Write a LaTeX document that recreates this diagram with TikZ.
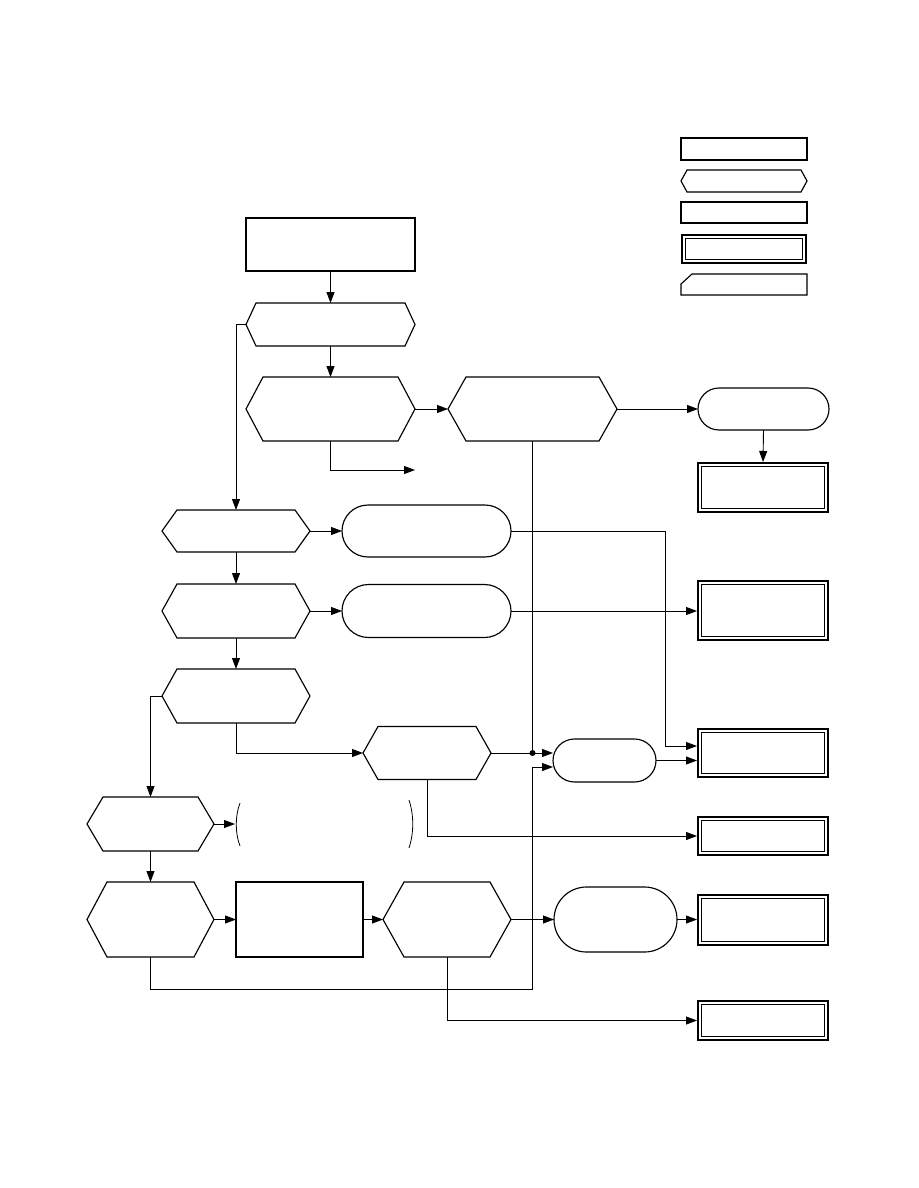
\documentclass[tikz,border=0pt]{standalone}
\usetikzlibrary{arrows.meta,calc}
\tikzset{
  shp/.style={draw=black, line width=1.15pt},
  ghost/.style={inner sep=0pt, outer sep=0pt},
  box/.style={shp, inner sep=0pt, outer sep=0pt},
  rbox/.style={shp, inner sep=0pt, outer sep=0pt},
  dbox/.style={draw=black, line width=1.6pt, inner sep=0pt, outer sep=0.8pt},
  dinner/.style={draw=black, line width=0.9pt},
  arr/.style={line width=0.9pt, -{Triangle[length=11pt,width=8pt]}},
  ln/.style={line width=0.9pt},
}
\newcommand{\myhex}[6]{%
  \node[ghost, minimum width=#4pt, minimum height=#5pt] (#1) at (#2,#3) {};
  \draw[shp, line join=miter] (#1.west) -- ([xshift=#6pt]#1.north west) -- ([xshift=-#6pt]#1.north east) -- (#1.east) -- ([xshift=-#6pt]#1.south east) -- ([xshift=#6pt]#1.south west) -- cycle;}
\newcommand{\myround}[5]{%
  \node[rbox, minimum width=#4pt, minimum height=#5pt, rounded corners=#5pt/2] (#1) at (#2,#3) {};}
\newcommand{\myrect}[5]{%
  \node[box, minimum width=#4pt, minimum height=#5pt] (#1) at (#2,#3) {};}
\newcommand{\mydbl}[6]{%
  \node[dbox, minimum width=#4pt, minimum height=#5pt] (#1) at (#2,#3) {};
  \draw[dinner] ([shift={(#6pt,-#6pt)}]#1.north west) rectangle ([shift={(-#6pt,#6pt)}]#1.south east);}
\begin{document}
\begin{tikzpicture}[x=1pt,y=-1pt]
\path[use as bounding box, fill=white] (0,0) rectangle (918,1188);

% legend
\myrect{lg1}{744}{149}{126}{22}
\myhex{lg2}{744}{181}{126}{22}{6}
\myrect{lg3}{744}{212.5}{126}{21}
\mydbl{lg4}{744}{249}{124.4}{28.4}{4.8}
\node[ghost, minimum width=126pt, minimum height=21pt] (lg5) at (744,284.5) {};
\draw[shp] ([yshift=-10pt]lg5.north west) -- ([xshift=11pt]lg5.north west) -- (lg5.north east) -- (lg5.south east) -- (lg5.south west) -- cycle;

% main shapes
\myrect{start}{330.5}{244.5}{169}{53}
\myhex{hexA}{330.5}{324.5}{169}{43}{10}
\myhex{hexB}{330.5}{409}{169}{64}{17}
\myhex{hexC}{532.5}{409}{169}{64}{18}
\myround{rA}{763.5}{409}{131}{42}
\mydbl{dA}{763}{487.5}{130.4}{49.4}{4.6}

\myhex{hexD}{236}{531}{148}{42}{15}
\myround{rB}{426.5}{531}{169}{52}
\myhex{hexE}{236}{611}{148}{54}{15}
\myround{rC}{426.5}{611}{169}{53}
\mydbl{dB}{763}{610.5}{130.4}{59.4}{4.6}

\myhex{hexF}{236}{696}{148}{54}{15}
\myhex{hexG}{427}{753}{128}{53}{15}
\myround{rD}{604.5}{760.5}{103}{43}
\mydbl{dC}{763}{753}{130.4}{48.4}{4.6}
\mydbl{dD}{763}{836}{130.4}{38.4}{4.6}

\myhex{hexH}{150.5}{824}{127}{54}{16}
\myhex{hexI}{150.5}{919.5}{127}{75}{20}
\myrect{rectB}{299.5}{919.5}{127}{75}
\myhex{hexJ}{447}{919.5}{128}{75}{21}
\myround{rE}{615.5}{919.5}{123}{65}
\mydbl{dE}{763}{920}{130.4}{50.4}{4.6}
\mydbl{dF}{763}{1020.5}{130.4}{39.4}{4.6}

% parentheses
\draw[line width=0.8pt] (240,803) .. controls (235,816) and (235,833) .. (240,846);
\draw[line width=0.8pt] (409,800) .. controls (414,815) and (414,833) .. (409,848);

% free ends and junctions
\coordinate (freeA) at (415,470);
\coordinate (freeB) at (235,824);
\coordinate (dot) at (532.5,753);
\coordinate (loop) at (532.5,989);
\coordinate (bend) at (665,531);

% connectors
\draw[arr] (start.south) -- (hexA.north);
\draw[arr] (hexA.south) -- (hexB.north);
\draw[arr] (hexB.south) |- (freeA);
\draw[arr] (hexB.east) -- (hexC.west);
\draw[arr] (hexC.east) -- (rA.west);
\draw[arr] (rA.south) -- (dA.north);
\draw[ln] (hexC.south) -- (dot);

\draw[arr] (hexA.west) -| (hexD.north);
\draw[arr] (hexD.east) -- (rB.west);
\draw[arr] (hexD.south) -- (hexE.north);
\draw[arr] (hexE.east) -- (rC.west);
\draw[arr] (rC.east) -- (rC.east -| dB.west);
\draw[arr] (hexE.south) -- (hexF.north);
\draw[arr] (rB.east) -- (bend) |- ([yshift=7pt]dC.west);

\draw[arr] (hexF.west) -| (hexH.north);
\draw[arr] (hexF.south) |- (hexG.west);
\draw[ln] (hexG.east) -- (dot);
\draw[arr] (dot) -- ([yshift=7.5pt]rD.west);
\fill (dot) circle (3pt);
\draw[arr] (rD.east) -- (rD.east -| dC.west);
\draw[arr] (hexG.south) |- (dD.west);

\draw[arr] (hexH.east) -- (freeB);
\draw[arr] (hexH.south) -- (hexI.north);
\draw[arr] (hexI.east) -- (rectB.west);
\draw[arr] (rectB.east) -- (hexJ.west);
\draw[arr] (hexJ.east) -- (rE.west);
\draw[arr] (rE.east) -- (rE.east -| dE.west);
\draw[arr] (hexJ.south) |- (dF.west);
\draw[arr] (hexI.south) |- (loop) |- ([yshift=-6.5pt]rD.west);
\end{tikzpicture}
\end{document}
